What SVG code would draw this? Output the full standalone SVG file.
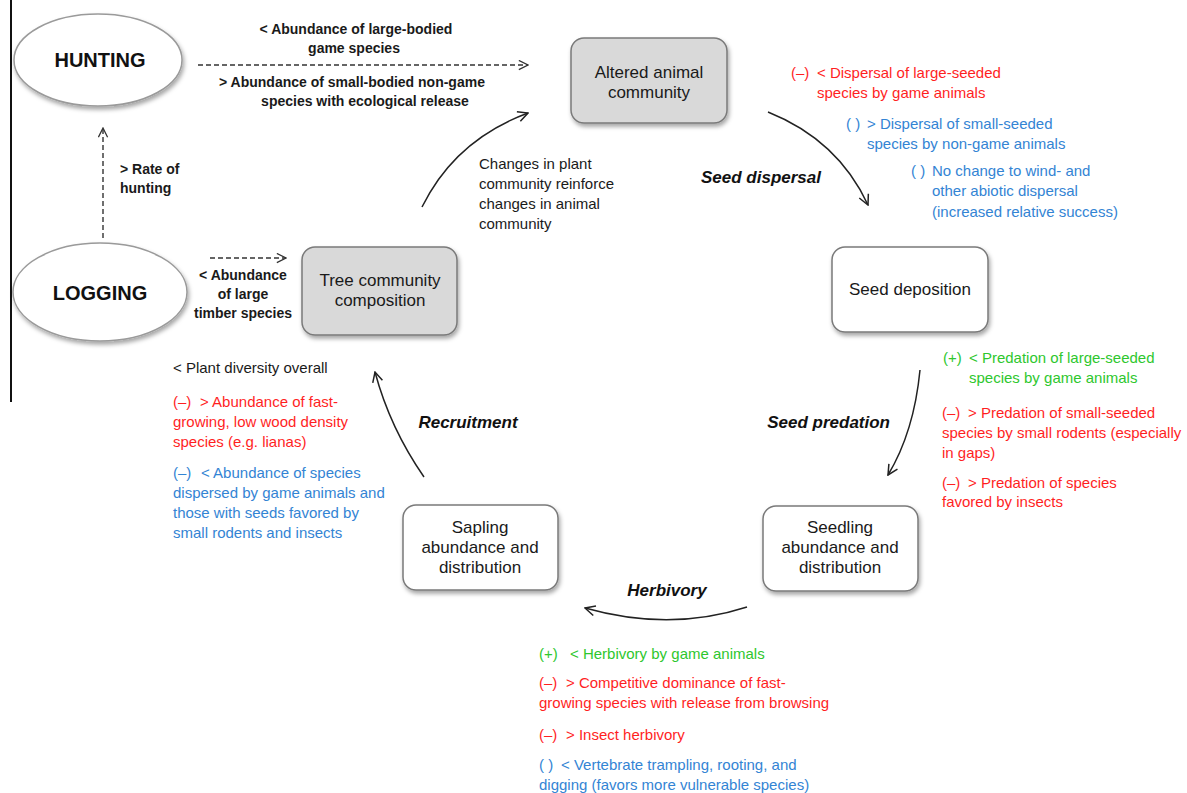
<svg xmlns="http://www.w3.org/2000/svg" width="1187" height="793" viewBox="0 0 1187 793">
<defs>
<marker id="ah" viewBox="0 0 12 12" refX="11" refY="6" markerWidth="12" markerHeight="12" markerUnits="userSpaceOnUse" orient="auto">
<path d="M1,1 L11,6 L1,11" fill="none" stroke="#222" stroke-width="1.5"/>
</marker>
<marker id="ahd" viewBox="0 0 12 12" refX="11" refY="6" markerWidth="11" markerHeight="11" markerUnits="userSpaceOnUse" orient="auto">
<path d="M1,1 L11,6 L1,11" fill="none" stroke="#333" stroke-width="1.4"/>
</marker>
<filter id="sh" x="-10%" y="-10%" width="125%" height="130%">
<feDropShadow dx="1.5" dy="3" stdDeviation="2" flood-color="#000" flood-opacity="0.35"/>
</filter>
<style>
.t{font-family:"Liberation Sans",Arial,sans-serif;font-size:15px;fill:#1a1a1a}
.b{font-weight:bold;font-size:14px}
.bi{font-family:"Liberation Sans",Arial,sans-serif;font-size:17px;font-weight:bold;font-style:italic;fill:#111}
.n{font-family:"Liberation Sans",Arial,sans-serif;font-size:17px;fill:#1a1a1a;text-anchor:middle}
.big{font-family:"Liberation Sans",Arial,sans-serif;font-size:20px;font-weight:bold;fill:#111;text-anchor:middle}
.r{fill:#ff1f1f}
.g{fill:#2ec72e}
.bl{fill:#3384d4}
.m{text-anchor:middle}
.box{stroke:#7a7a7a;stroke-width:1.5;filter:url(#sh)}
.gray{fill:#d9d9d9}
.white{fill:#ffffff}
.ell{fill:#fff;stroke:#9a9a9a;stroke-width:1.5;filter:url(#sh)}
.sol{fill:none;stroke:#222;stroke-width:1.5;marker-end:url(#ah)}
.dash{fill:none;stroke:#333;stroke-width:1.4;stroke-dasharray:5,3;marker-end:url(#ahd)}
</style>
</defs>
<rect x="0" y="0" width="1187" height="793" fill="#fff"/>
<line x1="11" y1="0" x2="11" y2="402" stroke="#111" stroke-width="2"/>

<g id="connectors">
<path class="dash" d="M198,65 L528,65"/>
<path class="dash" d="M103,238 L103,128"/>
<path class="dash" d="M210,258 L286,258"/>
<path class="sol" d="M422,207 Q455,140 528,113"/>
<path class="sol" d="M768,112 Q838,140 868,205"/>
<path class="sol" d="M920,370 Q914,432 888,475"/>
<path class="sol" d="M747,607 Q670,632 585,608"/>
<path class="sol" d="M424,477 Q390,428 375,372"/>
</g>

<g id="hunting">
<ellipse class="ell" cx="98" cy="60" rx="84" ry="46"/>
<text class="big" x="100" y="67">HUNTING</text>
</g>
<g id="logging">
<ellipse class="ell" cx="100" cy="292" rx="87" ry="49"/>
<text class="big" x="100" y="300">LOGGING</text>
</g>
<g id="altered">
<rect class="box gray" x="571" y="38" width="156" height="85" rx="13"/>
<text class="n" x="649" y="78">Altered animal</text>
<text class="n" x="649" y="98">community</text>
</g>
<g id="tree">
<rect class="box gray" x="302" y="247" width="155" height="88" rx="13"/>
<text class="n" x="380" y="286">Tree community</text>
<text class="n" x="380" y="306">composition</text>
</g>
<g id="seeddep">
<rect class="box white" x="832" y="247" width="156" height="85" rx="13"/>
<text class="n" x="910" y="295">Seed deposition</text>
</g>
<g id="seedling">
<rect class="box white" x="763" y="506" width="155" height="85" rx="13"/>
<text class="n" x="840" y="533">Seedling</text>
<text class="n" x="840" y="553">abundance and</text>
<text class="n" x="840" y="573">distribution</text>
</g>
<g id="sapling">
<rect class="box white" x="403" y="505" width="155" height="85" rx="13"/>
<text class="n" x="480" y="533">Sapling</text>
<text class="n" x="480" y="553">abundance and</text>
<text class="n" x="480" y="573">distribution</text>
</g>

<g id="labels">
<text class="t b m" x="356" y="34">&lt; Abundance of large-bodied</text>
<text class="t b m" x="354" y="53">game species</text>
<text class="t b m" x="352" y="87">&gt; Abundance of small-bodied  non-game</text>
<text class="t b m" x="365" y="106">species with ecological  release</text>
<text class="t b" x="120" y="174">&gt; Rate of</text>
<text class="t b" x="120" y="193">hunting</text>
<text class="t b m" x="243" y="280">&lt; Abundance</text>
<text class="t b m" x="243" y="299">of large</text>
<text class="t b m" x="243" y="318">timber species</text>

<text class="t" x="479" y="169">Changes in plant</text>
<text class="t" x="479" y="189">community reinforce</text>
<text class="t" x="479" y="209">changes in animal</text>
<text class="t" x="479" y="229">community</text>

<text class="bi" x="761" y="183" text-anchor="middle">Seed dispersal</text>
<text class="bi" x="890" y="428" text-anchor="end">Seed predation</text>
<text class="bi" x="667" y="596" text-anchor="middle">Herbivory</text>
<text class="bi" x="468" y="428" text-anchor="middle">Recruitment</text>

<text class="t r" x="791" y="78">(–)</text>
<text class="t r" x="817" y="78">&lt; Dispersal of large-seeded</text>
<text class="t r" x="817" y="98">species by game animals</text>
<text class="t bl" x="846" y="129">( )</text>
<text class="t bl" x="867" y="129">&gt; Dispersal of small-seeded</text>
<text class="t bl" x="867" y="149">species by non-game animals</text>
<text class="t bl" x="911" y="176">( )</text>
<text class="t bl" x="932" y="176">No change to wind- and</text>
<text class="t bl" x="932" y="196">other abiotic dispersal</text>
<text class="t bl" x="932" y="217">(increased relative success)</text>

<text class="t g" x="943" y="363">(+)</text>
<text class="t g" x="969" y="363">&lt; Predation of large-seeded</text>
<text class="t g" x="969" y="383">species by game animals</text>
<text class="t r" x="942" y="418">(–)</text>
<text class="t r" x="968" y="418">&gt; Predation of small-seeded</text>
<text class="t r" x="942" y="438">species by small rodents (especially</text>
<text class="t r" x="942" y="458">in gaps)</text>
<text class="t r" x="942" y="488">(–)</text>
<text class="t r" x="968" y="488">&gt; Predation of species</text>
<text class="t r" x="942" y="507">favored by insects</text>

<text class="t" x="173" y="373">&lt; Plant diversity overall</text>
<text class="t r" x="173" y="407">(–)</text>
<text class="t r" x="200" y="407">&gt; Abundance of fast-</text>
<text class="t r" x="173" y="427">growing, low wood density</text>
<text class="t r" x="173" y="447">species (e.g. lianas)</text>
<text class="t bl" x="173" y="478">(–)</text>
<text class="t bl" x="201" y="478">&lt; Abundance of species</text>
<text class="t bl" x="173" y="498">dispersed by game animals and</text>
<text class="t bl" x="173" y="518">those with seeds favored by</text>
<text class="t bl" x="173" y="538">small rodents and insects</text>

<text class="t g" x="539" y="659">(+)</text>
<text class="t g" x="570" y="659">&lt; Herbivory by game animals</text>
<text class="t r" x="539" y="688">(–)</text>
<text class="t r" x="566" y="688">&gt; Competitive dominance of fast-</text>
<text class="t r" x="539" y="708">growing species with release from browsing</text>
<text class="t r" x="539" y="740">(–)</text>
<text class="t r" x="566" y="740">&gt; Insect herbivory</text>
<text class="t bl" x="539" y="770">( )</text>
<text class="t bl" x="561" y="770">&lt; Vertebrate trampling, rooting, and</text>
<text class="t bl" x="539" y="790">digging (favors more vulnerable species)</text>
</g>
</svg>
